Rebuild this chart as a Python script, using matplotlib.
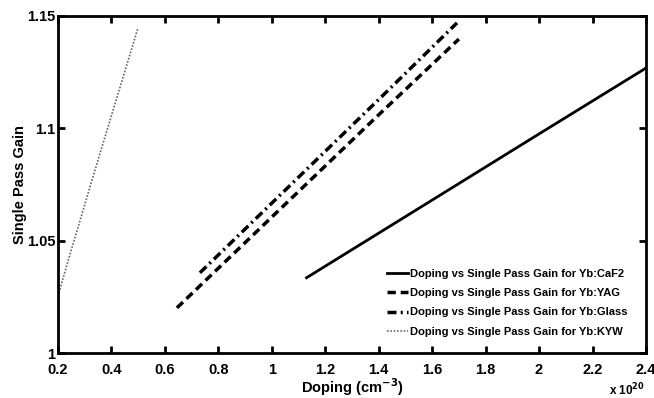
import matplotlib
matplotlib.use("Agg")
import matplotlib.pyplot as plt

plt.rcParams['font.family'] = ['Liberation Sans', 'DejaVu Sans']
plt.rcParams['font.weight'] = 'bold'
plt.rcParams['mathtext.default'] = 'bf'

caf2_x = [1.13, 1.5, 2.0, 2.4]
caf2_y = [1.0335, 1.0607, 1.0975, 1.1268]
yag_x = [0.645, 1.0, 1.4, 1.70]
yag_y = [1.0201, 1.0605, 1.1060, 1.1397]
glass_x = [0.731, 1.0, 1.4, 1.693]
glass_y = [1.0357, 1.0667, 1.1128, 1.1469]
kyw_x = [0.2, 0.245, 0.35, 0.499]
kyw_y = [1.0254, 1.0440, 1.0860, 1.1446]

labels = ['Doping vs Single Pass Gain for Yb:CaF2',
          'Doping vs Single Pass Gain for Yb:YAG',
          'Doping vs Single Pass Gain for Yb:Glass',
          'Doping vs Single Pass Gain for Yb:KYW']

xticks = [0.2, 0.4, 0.6, 0.8, 1.0, 1.2, 1.4, 1.6, 1.8, 2.0, 2.2, 2.4]
xticklabels = ['0.2', '0.4', '0.6', '0.8', '1', '1.2', '1.4', '1.6', '1.8', '2', '2.2', '2.4']
yticks = [1.0, 1.05, 1.1, 1.15]
yticklabels = ['1', '1.05', '1.1', '1.15']

fig = plt.figure(figsize=(6.54, 3.98), dpi=100)
ax = fig.add_axes([0.0887, 0.113, 0.899, 0.847])

ax.plot(caf2_x, caf2_y, color='black', lw=2.0, ls='-', label=labels[0])
ax.plot(yag_x, yag_y, color='black', lw=2.5, ls=(0, (2.4, 1.4)), label=labels[1])
ax.plot(glass_x, glass_y, color='black', lw=2.5, ls=(0, (2.6, 1.2, 0.6, 1.2)), label=labels[2])
ax.plot(kyw_x, kyw_y, color='#666666', lw=1.2, ls=(0, (1, 1)), label=labels[3])

ax.set_xlim(0.2, 2.4)
ax.set_ylim(1.0, 1.15)
ax.set_xticks(xticks)
ax.set_xticklabels(xticklabels)
ax.set_yticks(yticks)
ax.set_yticklabels(yticklabels)
ax.tick_params(direction='in', length=5, width=2, top=True, right=True,
               labelsize=10.5)
ax.tick_params(axis='x', pad=7)
ax.tick_params(axis='y', pad=2)
for lab in ax.get_xticklabels() + ax.get_yticklabels():
    lab.set_fontweight('bold')
for s in ax.spines.values():
    s.set_linewidth(2)

ax.set_xlabel('Doping (cm$^{-3}$)', fontsize=10.5, fontweight='bold', va='baseline')
ax.xaxis.set_label_coords(0.5, 0.013, transform=fig.transFigure)
ax.xaxis.label.set_x(352 / 654)
ax.set_ylabel('Single Pass Gain', fontsize=10.5, fontweight='bold')
ax.yaxis.set_label_coords(-0.052, 0.5)
fig.text(0.986, 0.006, r'x 10$^{20}$', ha='right', va='baseline',
         fontsize=8.5, fontweight='bold')

leg = ax.legend(loc='lower right', frameon=False, fontsize=8, handlelength=1.9,
                handletextpad=0.15, labelspacing=0.85, borderaxespad=0,
                borderpad=0, bbox_to_anchor=(0.968, 0.048))
for t in leg.get_texts():
    t.set_fontweight('bold')

fig.savefig('out.png', dpi=100)
